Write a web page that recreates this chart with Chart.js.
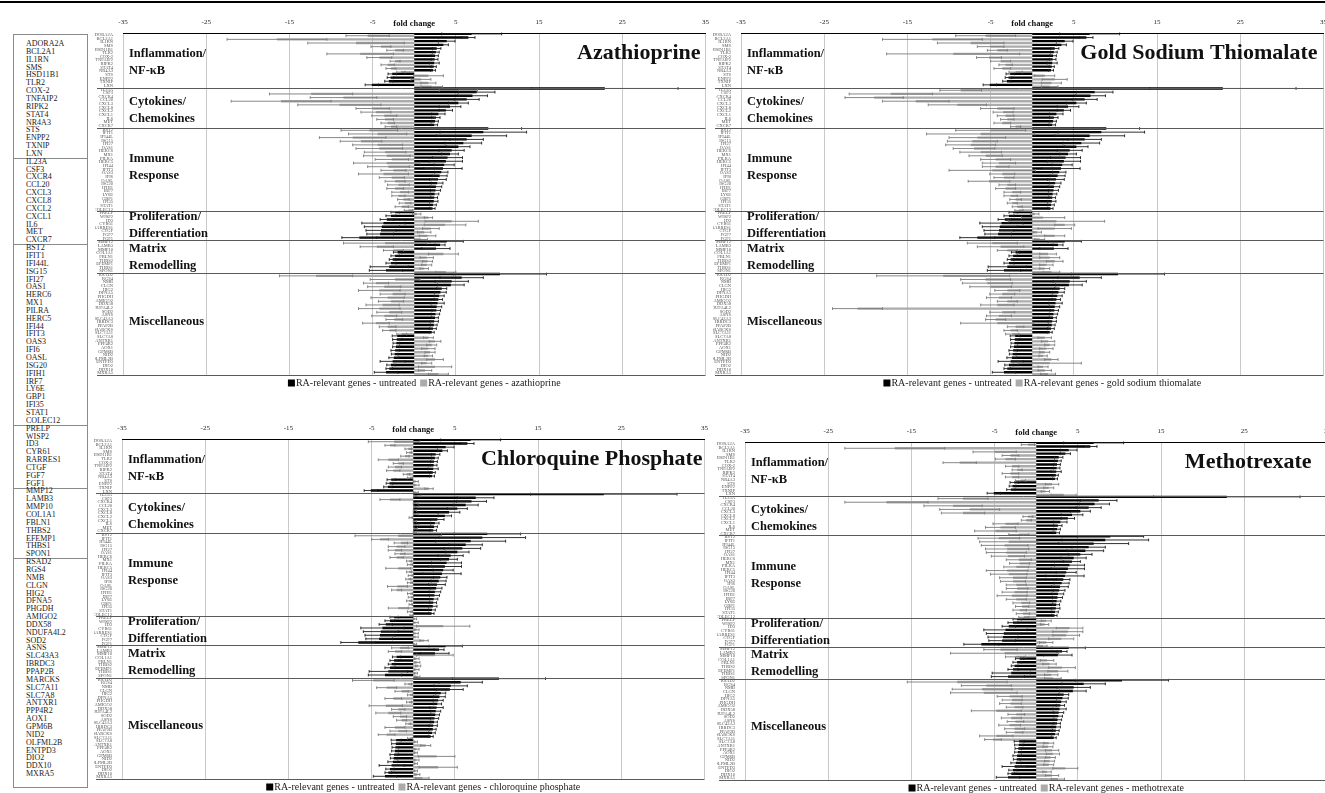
<!DOCTYPE html>
<html><head><meta charset="utf-8">
<script src="https://cdn.jsdelivr.net/npm/chart.js@4.4.1/dist/chart.umd.min.js"></script>
<style>
html,body{margin:0;padding:0;background:#fff;overflow:hidden;width:1325px;height:793px;}
#page{position:relative;width:1325px;height:793px;overflow:hidden;}
canvas{position:absolute;}
#topline{position:absolute;left:0;top:1px;width:1325px;height:2px;background:#000;}
#genebox{position:absolute;left:13px;top:34px;width:73px;height:752px;border:1px solid #8a8a8a;}
.g{position:absolute;left:12px;font:8px "Liberation Serif",serif;color:#222;line-height:8px;white-space:nowrap;}
.sep{position:absolute;left:0;width:73px;height:1px;background:#8a8a8a;}
</style></head>
<body><div id="page"><div id="topline"></div><div id="genebox"></div>
<canvas id="c1"></canvas><canvas id="c2"></canvas><canvas id="c3"></canvas><canvas id="c4"></canvas>
</div>
<script>
// ---------- DATA ----------
const genes = ['ADORA2A','BCL2A1','IL1RN','SMS','HSD11B1','TLR2','COX-2','TNFAIP2','RIPK2','STAT4','NR4A3','STS','ENPP2','TXNIP','LXN',
'IL23A','CSF3','CXCR4','CCL20','CXCL3','CXCL8','CXCL2','CXCL1','IL6','MET','CXCR7',
'BST2','IFIT1','IFI44L','ISG15','IFI27','OAS1','HERC6','MX1','PILRA','HERC5','IFI44','IFIT3','OAS3','IFI6','OASL','ISG20','IFIH1','IRF7','LY6E','GBP1','IFI35','STAT1','COLEC12',
'PRELP','WISP2','ID3','CYR61','RARRES1','CTGF','FGF7','FGF1',
'MMP12','LAMB3','MMP10','COL1A1','FBLN1','THBS2','EFEMP1','THBS1','SPON1',
'RSAD2','RGS4','NMB','CLGN','HIG2','DFNA5','PHGDH','AMIGO2','DDX58','NDUFA4L2','SOD2','ASNS','SLC43A3','IBRDC3','PPAP2B','MARCKS','SLC7A11','SLC7A8','ANTXR1','PPP4R2','AOX1','GPM6B','NID2','OLFML2B','ENTPD3','DIO2','DDX10','MXRA5'];

const sectionNames = [['Inflammation/','NF-\u03BAB'],['Cytokines/','Chemokines'],['Immune','Response'],['Proliferation/','Differentiation'],['Matrix','Remodelling'],['Miscellaneous']];
const sectionSizes = [15,11,23,8,9,28];
const xTicks = [-35,-25,-15,-5,5,15,25,35];

const untreated = [6.9,6.5,3.9,3.5,2.7,2.6,2.5,2.45,2.4,2.35,2.25,-2.65,-2.85,-3.05,-5.1,
22.9,7.5,7.0,6.3,5.3,4.3,3.8,2.9,2.6,2.5,2.4,
8.9,8.3,6.9,6.3,5.9,5.3,4.5,4.3,4.0,3.8,3.6,3.45,3.25,3.05,2.85,2.75,2.6,2.55,2.45,2.4,2.35,2.25,2.2,
-2.3,-2.8,-3.3,-3.7,-3.9,-4.0,-4.1,-6.6,
3.9,3.1,2.6,-2.0,-2.3,-2.6,-2.8,-3.0,-3.4,
10.3,5.7,4.5,4.4,3.3,3.15,3.0,2.9,2.8,2.7,2.65,2.55,2.5,2.4,2.35,2.25,2.1,-2.05,-2.1,-2.15,-2.2,-2.3,-2.35,-2.45,-2.6,-2.8,-3.0,-3.4];
const untreatedErr = [3.6,0.8,1.0,0.6,0.5,0.4,0.4,0.4,0.6,0.3,0.3,0.5,0.4,0.5,0.8,
8.8,2.2,1.8,1.5,1.2,1.3,0.8,0.8,0.5,0.4,0.4,
4.0,5.2,4.2,2.0,2.2,1.4,1.5,1.0,1.8,2.0,1.2,2.3,0.8,0.9,1.0,0.7,0.7,0.6,0.5,0.4,0.5,0.4,0.3,
0.5,0.6,0.8,2.6,2.1,1.8,1.6,2.1,
2.0,0.6,1.7,0.5,0.5,0.4,0.6,2.3,2.0,
5.6,2.6,2.0,1.6,0.6,0.7,0.6,0.5,0.8,0.6,0.5,0.5,0.4,0.5,0.4,0.4,0.3,0.6,0.5,0.4,0.4,0.5,0.4,0.6,1.5,0.5,0.4,1.4];

const azathioprine = [-5.6,-16.5,-7.0,-4.0,-2.3,-6.5,-4.2,-2.3,-3.2,-2.8,-1.6,1.7,0.8,1.7,2.1,
5.3,-12.4,-8.5,-16.0,-9.0,-5.0,-4.6,-3.6,-3.5,-3.2,-2.8,
-5.4,-4.4,-7.4,-6.4,-4.4,-4.2,-3.5,-3.3,-2.7,-3.3,-3.1,-2.5,-3.7,-2.7,-2.3,-1.9,-2.3,-1.7,-1.9,-1.3,-1.1,-1.5,-0.7,
0.3,1.7,4.5,3.7,2.0,1.2,1.6,0.8,
-3.5,-4.5,-2.5,3.5,1.5,1.6,1.5,1.2,3.8,
-11.8,-2.3,-4.6,-3.6,-4.2,-2.6,-3.2,-2.8,-3.8,-4.2,-3.0,-3.6,-2.4,-4.6,-3.2,-3.0,-1.5,1.7,2.5,2.1,1.7,1.9,1.7,2.5,1.5,2.5,1.3,2.9];
const azathioprineErr = [2.6,6.0,5.8,1.2,1.0,4.0,1.5,0.6,0.8,0.6,0.5,1.8,1.2,0.9,1.3,
2.3,5.0,4.0,6.0,5.0,2.0,1.8,1.5,1.0,0.8,0.7,
3.4,3.5,4.0,2.5,3.0,2.8,2.5,2.8,2.0,4.0,2.5,1.5,3.0,1.5,1.2,1.3,1.0,1.0,0.8,0.7,0.7,0.8,0.5,
0.5,0.5,3.2,2.5,1.0,0.8,1.0,0.8,
5.0,2.0,1.2,1.8,0.8,0.6,0.6,0.5,1.2,
4.4,3.0,1.5,2.0,2.5,1.5,2.0,1.5,2.0,2.5,1.5,1.5,1.0,1.6,1.0,0.8,0.6,0.6,0.7,0.6,0.8,0.6,0.5,1.0,0.6,2.0,0.8,1.2];

const goldThiomalate = [-5.6,-12.0,-7.4,-5.0,-4.2,-9.5,-5.2,-3.8,-3.2,-3.6,-2.0,1.5,2.7,2.3,2.1,
-8.6,-17.0,-19.0,-14.0,-9.0,-4.2,-3.5,-3.2,-3.0,-3.6,-2.0,
-5.0,-6.2,-6.6,-7.2,-7.4,-7.0,-6.2,-5.6,-4.4,-4.0,-4.4,-4.8,-3.6,-3.4,-5.2,-3.0,-3.2,-2.4,-2.6,-2.0,-2.4,-1.8,-1.6,
0.3,1.3,2.9,3.9,2.7,0.6,2.7,0.9,
-4.8,-3.8,-3.0,1.9,2.1,2.7,1.7,1.5,2.3,
-10.7,-5.6,-5.4,-5.0,-3.0,-3.6,-4.0,-3.0,-4.2,-21.0,-3.6,-4.0,-4.4,-4.2,-2.0,-2.6,-2.4,1.5,1.9,2.1,1.7,1.5,1.3,2.3,2.1,1.3,1.5,1.9];
const goldThiomalateErr = [3.6,6.0,4.0,1.6,1.2,8.0,1.5,1.2,0.8,1.0,0.8,1.2,1.5,1.2,1.0,
2.5,5.0,3.5,4.0,3.5,2.0,1.2,1.0,0.8,1.0,0.6,
4.2,6.5,3.4,3.0,3.0,2.5,2.5,2.0,1.8,2.0,1.6,5.2,1.5,1.2,2.5,1.0,1.2,1.0,0.8,0.7,0.6,0.6,0.5,
0.5,2.6,5.8,1.2,2.0,0.5,1.2,0.6,
3.0,2.8,1.2,1.0,1.2,1.0,0.8,0.6,1.0,
8.0,3.0,3.0,2.5,1.5,1.5,1.5,1.2,2.0,3.0,1.5,1.5,1.2,4.4,1.0,0.8,0.8,0.8,0.8,0.6,0.8,0.6,0.5,0.8,3.8,0.6,0.8,0.9];

const chloroquine = [-2.3,-2.8,-0.6,-0.5,-1.0,-3.0,-1.8,-2.2,-2.4,-0.8,-0.4,0.3,0.4,1.9,0.3,
0.5,-2.8,0.3,0.4,0.2,0.3,-0.3,0.2,0.4,0.3,0.2,
-1.8,-4.0,-1.5,-2.0,-2.2,-1.6,-2.0,-0.5,-0.4,-1.8,-0.5,-0.3,-0.6,-0.4,-1.9,-2.0,-0.4,-0.3,-0.5,-0.3,-1.8,-0.4,-0.2,
0.2,0.3,3.6,0.4,0.3,0.3,1.3,0.2,
-1.6,-2.2,2.6,0.4,0.5,0.6,0.4,0.3,0.5,
-4.8,-0.6,-3.2,-1.4,-0.4,-2.4,-0.5,-3.3,-1.8,-3.0,-1.6,-1.4,-0.6,-2.2,-1.8,-3.2,-0.4,0.3,1.5,0.4,0.3,2.8,0.4,0.3,3.0,0.3,0.5,1.1];
const chloroquineErr = [3.1,0.6,0.4,0.3,0.5,1.2,0.6,0.8,0.8,0.4,0.3,0.3,0.3,0.5,0.3,
0.4,1.2,0.3,0.3,0.2,0.3,0.2,0.2,0.3,0.2,0.2,
5.2,1.0,0.8,1.0,0.8,0.6,0.8,0.3,0.3,1.5,0.3,0.3,0.3,0.3,1.2,0.6,0.3,0.3,0.3,0.2,1.2,0.3,0.2,
0.2,0.3,3.2,0.3,0.3,0.3,0.5,0.2,
1.0,0.8,2.2,0.3,0.3,0.3,0.3,0.2,0.3,
2.5,0.4,1.2,0.8,0.3,1.0,0.3,2.0,0.8,1.5,0.8,0.6,0.3,1.2,1.0,1.0,0.3,0.2,0.6,0.3,0.2,2.2,0.3,0.2,2.3,0.2,0.3,0.8];

const methotrexate = [-1.0,-17.0,-5.0,-3.1,-3.7,-9.2,-2.9,-2.3,-3.1,-2.9,-1.9,1.9,1.5,1.1,3.3,
-8.8,-18.0,-10.0,-8.0,-8.8,-1.0,-1.2,-3.7,-4.3,-4.9,-2.1,
-4.5,-3.3,-3.8,-3.5,-3.6,-3.4,-2.1,-2.0,-2.4,-3.5,-3.3,-2.8,-2.8,-2.4,-2.3,-2.6,-2.9,-2.4,-1.8,-1.7,-2.0,-1.6,-1.5,
1.2,1.0,4.0,3.8,3.6,3.0,1.2,0.8,
-4.3,-3.8,-2.5,1.3,1.6,3.1,2.6,1.8,2.0,
-9.5,-6.0,-6.5,-6.3,-3.2,-2.9,-3.1,-2.6,-4.8,-2.4,-3.0,-2.5,-3.2,-2.6,-2.6,-4.8,-5.2,1.5,1.4,1.9,2.0,1.7,1.6,1.5,3.5,1.3,1.9,2.6];
const methotrexateErr = [0.8,6.0,2.6,1.0,1.2,2.0,0.8,0.6,1.0,0.8,0.6,0.8,0.6,0.5,1.5,
3.0,5.0,3.5,3.6,2.6,0.6,0.6,1.5,1.8,2.5,1.2,
2.5,3.5,2.8,2.6,2.4,2.0,1.5,1.2,1.5,2.5,2.2,1.6,1.5,1.2,1.3,1.5,1.8,1.2,1.0,0.8,0.8,0.8,0.6,
0.6,0.5,1.6,1.8,1.6,1.5,0.8,0.5,
2.0,6.5,1.2,0.8,0.8,1.6,1.2,0.8,1.0,
6.0,3.0,3.6,4.0,1.5,1.2,1.3,1.0,3.0,1.0,1.2,1.0,1.3,1.2,1.0,2.0,1.0,0.6,0.6,0.8,0.8,0.6,0.6,0.6,1.5,0.5,0.8,0.8];

// ---------- gene list (left box) ----------
(function(){
  const box = document.getElementById('genebox');
  let start = 0;
  sectionSizes.forEach((n, si) => {
    if (si > 0) {
      const d = document.createElement('div'); d.className = 'sep';
      d.style.top = (9 + 7.85 * (start - 0.5)) + 'px'; box.appendChild(d);
    }
    start += n;
  });
  genes.forEach((g, i) => {
    const d = document.createElement('div'); d.className = 'g';
    d.textContent = g; d.style.top = (9 + 7.85 * i - 4) + 'px'; box.appendChild(d);
  });
})();

// ---------- charts ----------
const SERIF = '"Liberation Serif", "Times New Roman", serif';
const labelRows = [5.2, 18.4, 34.1, 50.0, 58.8, 78.8];

function decor(title, titleInset) {
  return {
    id: 'decor',
    afterDatasetsDraw(chart) {
      const ctx = chart.ctx, xs = chart.scales.x, ys = chart.scales.y, ca = chart.chartArea;
      chart.data.datasets.forEach((ds, di) => {
        const meta = chart.getDatasetMeta(di);
        ctx.save(); ctx.strokeStyle = ds.errColor; ctx.lineWidth = 0.9;
        meta.data.forEach((bar, j) => {
          const v = ds.data[j], e = ds.errors[j];
          const x1 = xs.getPixelForValue(v - e), x2 = xs.getPixelForValue(v + e), y = bar.y;
          ctx.beginPath();
          ctx.moveTo(x1, y); ctx.lineTo(x2, y);
          ctx.moveTo(x1, y - 1.4); ctx.lineTo(x1, y + 1.4);
          ctx.moveTo(x2, y - 1.4); ctx.lineTo(x2, y + 1.4);
          ctx.stroke();
        });
        ctx.restore();
      });
      ctx.save(); ctx.strokeStyle = '#5a5a5a'; ctx.lineWidth = 1;
      let start = 0;
      const rowH = (ys.getPixelForValue(1) - ys.getPixelForValue(0));
      sectionSizes.forEach((n, si) => {
        if (si > 0) {
          const y = Math.round(ys.getPixelForValue(start) - rowH / 2) + 0.5;
          ctx.beginPath(); ctx.moveTo(ca.left - 26, y); ctx.lineTo(ca.right, y); ctx.stroke();
        }
        start += n;
      });
      const yb = Math.round(ca.bottom) + 0.5;
      ctx.beginPath(); ctx.moveTo(ca.left - 26, yb); ctx.lineTo(ca.right, yb); ctx.stroke();
      ctx.restore();
      ctx.save(); ctx.fillStyle = '#111'; ctx.font = 'bold 12.5px ' + SERIF;
      ctx.textAlign = 'left'; ctx.textBaseline = 'middle';
      sectionNames.forEach((lines, si) => {
        const y0 = ys.getPixelForValue(labelRows[si]);
        lines.forEach((t, li) => ctx.fillText(t, ca.left + 6, y0 + li * 17));
      });
      ctx.restore();
    },
    afterDraw(chart) {
      const ctx = chart.ctx, xs = chart.scales.x, ca = chart.chartArea;
      ctx.save();
      ctx.fillStyle = '#111'; ctx.font = 'bold 22px ' + SERIF;
      ctx.textAlign = 'right'; ctx.textBaseline = 'middle';
      ctx.fillText(title, ca.right - titleInset, ca.top + 20);
      ctx.font = 'bold 8.5px ' + SERIF; ctx.textAlign = 'center';
      ctx.fillText('fold change', xs.getPixelForValue(0), ca.top - 9);
      ctx.font = '10px ' + SERIF; ctx.textAlign = 'left';
      const items = chart.data.datasets.map(d => ({ t: d.label, c: d.backgroundColor, w: ctx.measureText(d.label).width }));
      const box = 7, gap = 4;
      const total = items.reduce((s, it) => s + box + 1 + it.w, 0) + gap;
      let x = (ca.left + ca.right) / 2 + 10 - total / 2;
      const y = ca.bottom + 8;
      items.forEach(it => {
        ctx.fillStyle = it.c; ctx.fillRect(x, y - 3.5, box, box);
        x += box + 1;
        ctx.fillStyle = '#222'; ctx.fillText(it.t, x, y + 0.5);
        x += it.w + gap;
      });
      ctx.restore();
    }
  };
}

function makePanel(id, plotLeft, plotTop, plotH, treated, treatedErr, treatedName, title, titleInset) {
  const cv = document.getElementById(id);
  const W = 28 + 585 + 8, H = 24 + plotH + 26;
  cv.width = W; cv.height = H;
  cv.style.left = (plotLeft - 28) + 'px'; cv.style.top = (plotTop - 24) + 'px';
  cv.style.width = W + 'px'; cv.style.height = H + 'px';
  new Chart(cv, {
    type: 'bar',
    data: {
      labels: genes,
      datasets: [
        { label: 'RA-relevant genes - untreated', data: untreated, errors: untreatedErr, backgroundColor: '#000000', errColor: '#1a1a1a' },
        { label: 'RA-relevant genes - ' + treatedName, data: treated, errors: treatedErr, backgroundColor: '#ababab', errColor: '#7a7a7a' }
      ]
    },
    options: {
      indexAxis: 'y', responsive: false, animation: false, devicePixelRatio: 1,
      layout: { padding: { left: 0, right: 8, top: 0, bottom: 26 } },
      datasets: { bar: { categoryPercentage: 1.0, barPercentage: 1.3, borderWidth: 0 } },
      scales: {
        x: {
          type: 'linear', position: 'top', min: -35, max: 35,
          afterBuildTicks: s => { s.ticks = xTicks.map(v => ({ value: v })); },
          afterFit: s => { s.height = 24; },
          ticks: { font: { family: SERIF, size: 7 }, color: '#222', padding: 7 },
          grid: { color: '#c9c9c9', lineWidth: 1, drawTicks: false },
          border: { display: true, color: '#000', width: 1 }
        },
        y: {
          type: 'category',
          afterFit: s => { s.width = 28; },
          ticks: { autoSkip: false, font: { family: SERIF, size: 4.5 }, color: '#555', padding: 2 },
          grid: { display: false }, border: { display: false }
        }
      },
      plugins: { legend: { display: false }, tooltip: { enabled: false }, title: { display: false } }
    },
    plugins: [decor(title, titleInset)]
  });
}

makePanel('c1', 123, 33, 342, azathioprine, azathioprineErr, 'azathioprine', 'Azathioprine', 5);
makePanel('c2', 741, 33, 342, goldThiomalate, goldThiomalateErr, 'gold sodium thiomalate', 'Gold Sodium Thiomalate', 6);
makePanel('c3', 122, 439, 340, chloroquine, chloroquineErr, 'chloroquine phosphate', 'Chloroquine Phosphate', 2);
makePanel('c4', 745, 442, 338, methotrexate, methotrexateErr, 'methotrexate', 'Methotrexate', 16);
</script>
</body></html>
